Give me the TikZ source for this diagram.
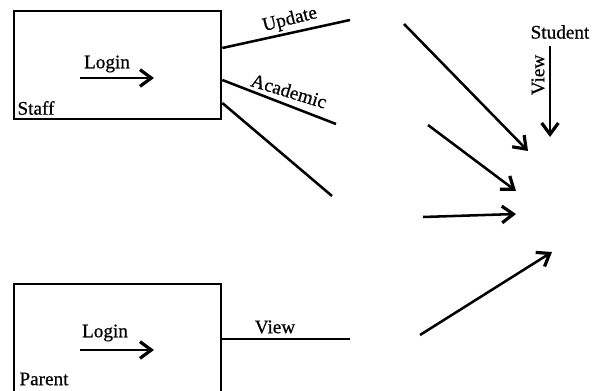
\documentclass[tikz,border=0pt]{standalone}
\usepackage{fontspec}
\setmainfont[FakeBold=0.7]{Liberation Serif}
\usetikzlibrary{arrows.meta}
\tikzset{
  box/.style={draw=black,line width=2pt,fill=none,inner sep=0pt},
  lnk/.style={draw=black,line width=1.9pt},
  arr/.style={lnk,-{Straight Barb[length=8.5pt,width=12.5pt,line width=2.4pt]}},
  lbl/.style={inner sep=0pt,text=black,font=\fontsize{14.4}{16}\selectfont}
}
\begin{document}
\begin{tikzpicture}[x=0.75pt,y=-0.75pt]
\useasboundingbox (0,0) rectangle (596,391);
\clip (0,0) rectangle (596,391);
\node[box,minimum width=155.25pt,minimum height=81pt] (staff) at (117.5,65) {};
\node[box,minimum width=155.25pt,minimum height=87pt] (parent) at (117.5,342) {};
% coordinates
\coordinate (su) at (staff.east |- 0,48);
\coordinate (sa) at (staff.east |- 0,80);
\coordinate (st) at (staff.east |- 0,103);
\coordinate (pv) at (parent.east |- 0,339);
\coordinate (eu) at (350,20);
\coordinate (ea) at (336,124);
\coordinate (et) at (332,196);
\coordinate (ev) at (350,339);
\coordinate (a1s) at (404,24);
\coordinate (a1e) at (528,151);
\coordinate (a2s) at (428,125);
\coordinate (a2e) at (516,191);
\coordinate (a3s) at (423,217);
\coordinate (a3e) at (516,214);
\coordinate (a4s) at (420,335);
\coordinate (a4e) at (552,252);
\coordinate (vs) at (550,46);
\coordinate (ve) at (550,137);
\coordinate (l1s) at (80,78);
\coordinate (l1e) at (154,78);
\coordinate (l2s) at (80,350);
\coordinate (l2e) at (154,350);
\draw[lnk] (su) -- (eu);
\draw[lnk] (sa) -- (ea);
\draw[lnk] (st) -- (et);
\draw[lnk] (pv) -- (ev);
\draw[arr] (a1s) -- (a1e);
\draw[arr] (a2s) -- (a2e);
\draw[arr] (a3s) -- (a3e);
\draw[arr] (a4s) -- (a4e);
\draw[arr] (vs) -- (ve);
\draw[arr] (l1s) -- (l1e);
\draw[arr] (l2s) -- (l2e);
% labels
\node[lbl] (tlogin1) at (107,64) {Login};
\node[lbl] (tstaff) at (36,108) {Staff};
\node[lbl,rotate=14] (tupdate) at (290,20) {Update};
\node[lbl,rotate=-17] (tacad) at (289,91) {Academic};
\node[lbl] (tstudent) at (560,32) {Student};
\node[lbl,rotate=90] (tview1) at (538,75) {View};
\node[lbl] (tlogin2) at (105,333) {Login};
\node[lbl] (tparent) at (44,379) {Parent};
\node[lbl] (tview2) at (275,327) {View};
\end{tikzpicture}
\end{document}
